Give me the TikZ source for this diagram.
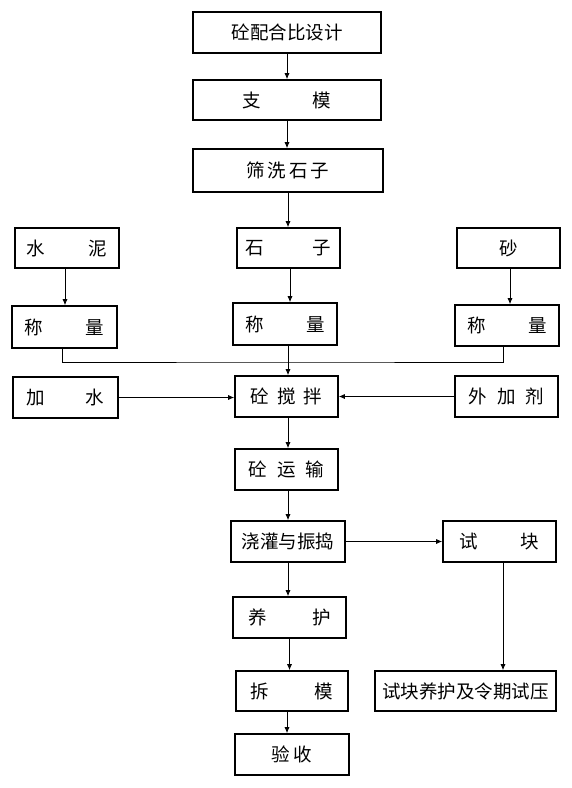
\documentclass[tikz,border=0pt]{standalone}
\usepackage{fontspec}
\newfontfamily\cjk{Noto Sans CJK SC}
\usetikzlibrary{arrows.meta}
\tikzset{
  box/.style={draw, line width=1.6pt, inner sep=0pt, font=\cjk\fontsize{18.5}{20}\selectfont, align=center},
  arr/.style={line width=0.8pt, -{Latex[length=6pt,width=5pt]}},
  ln/.style={line width=0.8pt}
}
\newcommand{\gp}[1]{\hspace{#1pt}}
\begin{document}
\begin{tikzpicture}[x=1pt,y=-1pt]
\useasboundingbox (0,0) rectangle (572,788);
\node[box, minimum width=188pt, minimum height=41pt] (cfg) at (287,32.5) {砼配合比设计};
\node[box, minimum width=188pt, minimum height=40pt] (zm) at (287,100) {支\gp{52}模};
\node[box, minimum width=190pt, minimum height=43pt] (sx) at (288,170.5) {筛\gp{3}洗\gp{3}石\gp{3}子};
\node[box, minimum width=104pt, minimum height=40pt] (sn) at (67,248) {水\gp{43}泥};
\node[box, minimum width=103pt, minimum height=40pt] (sz) at (288.5,248) {石\gp{49}子};
\node[box, minimum width=103pt, minimum height=40pt] (sha) at (508.5,248) {砂};
\node[box, minimum width=105pt, minimum height=42pt] (cl1) at (64.5,327) {称\gp{43}量};
\node[box, minimum width=104pt, minimum height=42pt] (cl2) at (285,324) {称\gp{43}量};
\node[box, minimum width=104pt, minimum height=41pt] (cl3) at (507,325.5) {称\gp{43}量};
\node[box, minimum width=105pt, minimum height=41pt] (js) at (65.5,397.5) {加\gp{41}水};
\node[box, minimum width=103pt, minimum height=41pt] (jb) at (286.5,396.5) {砼\gp{8}搅\gp{8}拌};
\node[box, minimum width=103pt, minimum height=41pt] (wj) at (506.5,396.5) {外\gp{10}加\gp{10}剂};
\node[box, minimum width=103pt, minimum height=41pt] (ys) at (286.5,469.5) {砼\gp{10}运\gp{10}输};
\node[box, minimum width=114pt, minimum height=41pt] (jg) at (288,541.5) {浇灌与振捣};
\node[box, minimum width=113pt, minimum height=41pt] (sk) at (499.5,541.5) {试\gp{43}块};
\node[box, minimum width=113pt, minimum height=41pt] (yh) at (289.5,617.5) {养\gp{46}护};
\node[box, minimum width=112pt, minimum height=40pt] (cm) at (292,691) {拆\gp{46}模};
\node[box, minimum width=114pt, minimum height=41pt] (ysh) at (292,754.5) {验\gp{4}收};
\node[box, minimum width=181pt, minimum height=40pt] (sy) at (465.5,691) {试块养护及令期试压};
\coordinate (m) at (288,362);
\draw[arr] (cfg.south) -- (cfg.south |- zm.north);
\draw[arr] (zm.south) -- (zm.south |- sx.north);
\draw[arr] (sx.south) -- (sx.south |- sz.north);
\draw[arr] ([xshift=-2pt]sn.south) -- ([xshift=-2pt]sn.south |- cl1.north);
\draw[arr] ([xshift=1.5pt]sz.south) -- ([xshift=1.5pt]sz.south |- cl2.north);
\draw[arr] ([xshift=1.5pt]sha.south) -- ([xshift=1.5pt]sha.south |- cl3.north);
\draw[ln] ([xshift=-2.5pt]cl1.south) |- (m) -| ([xshift=-4pt]cl3.south);
\draw[arr] ([xshift=3pt]cl2.south) -- ([xshift=3pt]cl2.south |- jb.north);
\draw[arr] (js.east) -- (js.east -| jb.west);
\draw[arr] (wj.west) -- (wj.west -| jb.east);
\draw[arr] ([xshift=1.5pt]jb.south) -- ([xshift=1.5pt]jb.south |- ys.north);
\draw[arr] ([xshift=1.5pt]ys.south) -- ([xshift=1.5pt]ys.south |- jg.north);
\draw[arr] (jg.east) -- (jg.east -| sk.west);
\draw[arr] (jg.south) -- (jg.south |- yh.north);
\draw[arr] (yh.south) -- (yh.south |- cm.north);
\draw[arr] ([xshift=-5pt]cm.south) -- ([xshift=-5pt]cm.south |- ysh.north);
\draw[arr] ([xshift=3.5pt]sk.south) -- ([xshift=3.5pt]sk.south |- sy.north);
\end{tikzpicture}
\end{document}
